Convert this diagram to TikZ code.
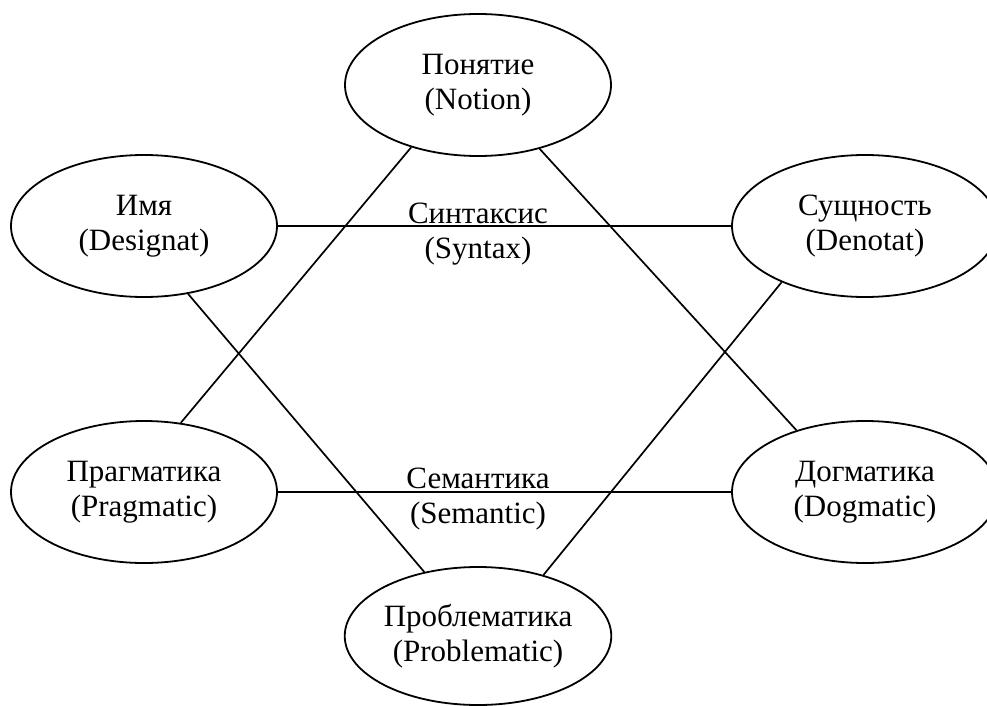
\documentclass[tikz,border=0pt]{standalone}
\usepackage{fontspec}
\setmainfont{Liberation Serif}
\usetikzlibrary{shapes.geometric}
\begin{document}
\begin{tikzpicture}[x=1pt,y=-1pt,
  oval/.style={draw=black, line width=1.8pt, ellipse, minimum width=266pt, minimum height=142pt, inner sep=0pt, align=center, font=\fontsize{31}{35}\selectfont},
  conn/.style={draw=black, line width=1.7pt},
  lbl/.style={align=center, inner sep=0pt, font=\fontsize{31}{35}\selectfont}]
\useasboundingbox (0,0) rectangle (987,706);
\node[oval] (notion) at (478,85) {Понятие\\(Notion)};
\node[oval] (designat) at (144,226) {Имя\\(Designat)};
\node[oval] (denotat) at (865,226) {Сущность\\(Denotat)};
\node[oval] (prag) at (144,492) {Прагматика\\(Pragmatic)};
\node[oval] (dogm) at (865,492) {Догматика\\(Dogmatic)};
\node[oval, minimum height=138pt] (probl) at (478,636) {Проблематика\\(Problematic)};
\draw[conn] (designat.east) -- (denotat.west);
\draw[conn] (prag.east) -- (dogm.west);
\draw[conn] (notion.223.7) -- (prag.62.8);
\draw[conn] (notion.314.5) -- (dogm.138);
\draw[conn] (designat.303.7) -- (probl.130.7);
\draw[conn] (denotat.214.5) -- (probl.43.2);
\node[lbl] (syn) at (478,234) {Синтаксис\\(Syntax)};
\node[lbl] (sem) at (478,499) {Семантика\\(Semantic)};
\end{tikzpicture}
\end{document}
